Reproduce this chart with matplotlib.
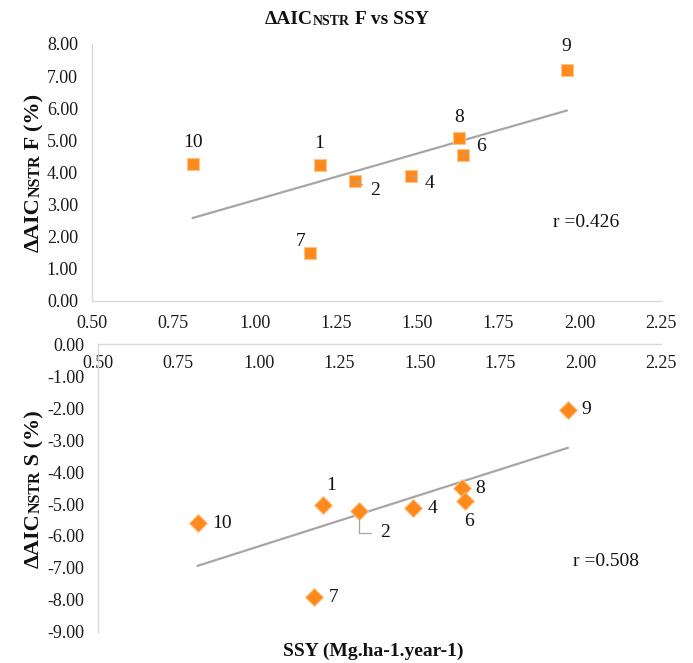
import numpy as np
import matplotlib
matplotlib.use("Agg")
import matplotlib.pyplot as plt

plt.rcParams['font.family'] = ['Liberation Serif', 'DejaVu Serif']

# site ids and values
ids = ['10', '1', '2', '4', '7', '8', '6', '9']
ssy = [0.81, 1.20, 1.31, 1.48, 1.17, 1.63, 1.64, 1.96]
aic_f = [4.27, 4.22, 3.72, 3.90, 1.49, 5.07, 4.53, 7.20]
aic_s = [-5.59, -5.04, -5.21, -5.11, -7.91, -4.49, -4.92, -2.06]
r_f = 'r =0.426'
r_s = 'r =0.508'
yticks_f = [0, 1, 2, 3, 4, 5, 6, 7, 8]
yticks_s = [0, -1, -2, -3, -4, -5, -6, -7, -8, -9]
xticks = [0.50, 0.75, 1.00, 1.25, 1.50, 1.75, 2.00, 2.25]

orange = '#FF8A1C'
gray_line = '#A6A6A6'
spine_col = '#D9D9D9'

# label offsets in pixels (dx, dy up) and leader line style (None = no leader)
off_f = {'10': (0, 21, None), '1': (0, 22, None), '2': (20, -9, 'arc3'),
         '4': (19, -8, 'arc3'), '7': (-9, 12, None), '8': (0, 21, None),
         '6': (18, 9, 'arc3'), '9': (0, 23, None)}
off_s = {'10': (24, -1, None), '1': (8, 20, None),
         '2': (26, -22, 'angle,angleA=0,angleB=90,rad=0'),
         '4': (19, -1, None), '7': (20, 0, None), '8': (19, -1, None),
         '6': (4, -20, None), '9': (19, 0, None)}

W, H = 693, 663
fig = plt.figure(figsize=(W / 100, H / 100), dpi=100)


def px_rect(l, t, r, b):
    return [l / W, 1 - b / H, (r - l) / W, (b - t) / H]


def style_axes(ax):
    for s in ['top', 'right']:
        ax.spines[s].set_visible(False)
    for s in ['left', 'bottom']:
        ax.spines[s].set_color(spine_col)
        ax.spines[s].set_linewidth(1.0)
    ax.tick_params(length=0, labelsize=13, colors='#1a1a1a')
    ax.set_xlim(0.5, 2.25)
    ax.set_xticks(xticks)
    ax.set_xticklabels(['%.2f' % v for v in xticks])


def trend(ax, x, y):
    x = np.array(x)
    k, b = np.polyfit(x, np.array(y), 1)
    xs = np.array([x.min(), x.max()])
    ax.plot(xs, k * xs + b, color=gray_line, lw=1.6, zorder=2)


def label_points(ax, x, y, offs):
    for i, lab in enumerate(ids):
        dx, dy, lead = offs[lab]
        ap = None
        if lead:
            ap = dict(arrowstyle='-', color=gray_line, lw=0.9, shrinkA=4, shrinkB=6,
                      connectionstyle=lead)
        ax.annotate(lab, (x[i], y[i]), xytext=(dx, dy), textcoords='offset pixels',
                    ha='center', va='center', fontsize=14, color='#111111',
                    arrowprops=ap, zorder=4)


def multi_text(x, y, parts, rotation=0):
    # pieces of different size chained so they read as one string
    prev = None
    for txt, size in parts:
        kw = dict(fontsize=size, fontweight='bold', color='#111111', rotation=rotation)
        if prev is None:
            if rotation == 90:
                prev = fig.text(x / W, 1 - y / H, txt, ha='right', va='bottom', **kw)
            else:
                prev = fig.text(x / W, 1 - y / H, txt, ha='left', va='bottom', **kw)
        elif rotation == 90:
            prev = fig.axes[0].annotate(txt, xy=(1, 1), xycoords=prev, ha='right',
                                        va='bottom', annotation_clip=False, **kw)
        else:
            prev = fig.axes[0].annotate(txt, xy=(1, 0), xycoords=prev, ha='left',
                                        va='bottom', annotation_clip=False, **kw)


# top panel
ax1 = fig.add_axes(px_rect(92, 44, 661, 301))
style_axes(ax1)
ax1.set_ylim(0, 8)
ax1.set_yticks(yticks_f)
ax1.set_yticklabels(['%.2f' % v for v in yticks_f])
ax1.tick_params(axis='x', pad=10)
ax1.tick_params(axis='y', pad=10)
trend(ax1, ssy, aic_f)
ax1.plot(ssy, aic_f, 's', color=orange, mec='#FFC48A', mew=0.8, ms=9, zorder=3)
label_points(ax1, ssy, aic_f, off_f)
ax1.text(2.02, 2.43, r_f, fontsize=14, color='#111111', ha='center', va='center')

# bottom panel
ax2 = fig.add_axes(px_rect(98, 344, 661, 632))
style_axes(ax2)
ax2.set_ylim(-9, 0)
ax2.set_yticks(yticks_s)
ax2.set_yticklabels(['%.2f' % v for v in yticks_s])
ax2.spines['bottom'].set_position(('data', 0))
ax2.tick_params(axis='x', pad=8)
ax2.tick_params(axis='y', pad=10)
trend(ax2, ssy, aic_s)
ax2.plot(ssy, aic_s, 'D', color=orange, mec='#FFC48A', mew=0.8, ms=9, zorder=3)
label_points(ax2, ssy, aic_s, off_s)
ax2.text(2.08, -6.81, r_s, fontsize=14, color='#111111', ha='center', va='center')

# titles and axis labels
multi_text(265, 28, [('\u0394AIC', 14), ('NSTR', 10), (' F vs SSY', 14)])
multi_text(44, 252, [('\u0394AIC', 16), ('NSTR', 11.5), (' F (%)', 16)], rotation=90)
multi_text(44, 568, [('\u0394AIC', 16), ('NSTR', 11.5), (' S (%)', 16)], rotation=90)
fig.text(373 / W, 1 - 651 / H, 'SSY (Mg.ha-1.year-1)', fontsize=14,
         fontweight='bold', ha='center', va='center', color='#111111')

fig.savefig('out.png', dpi=100)
